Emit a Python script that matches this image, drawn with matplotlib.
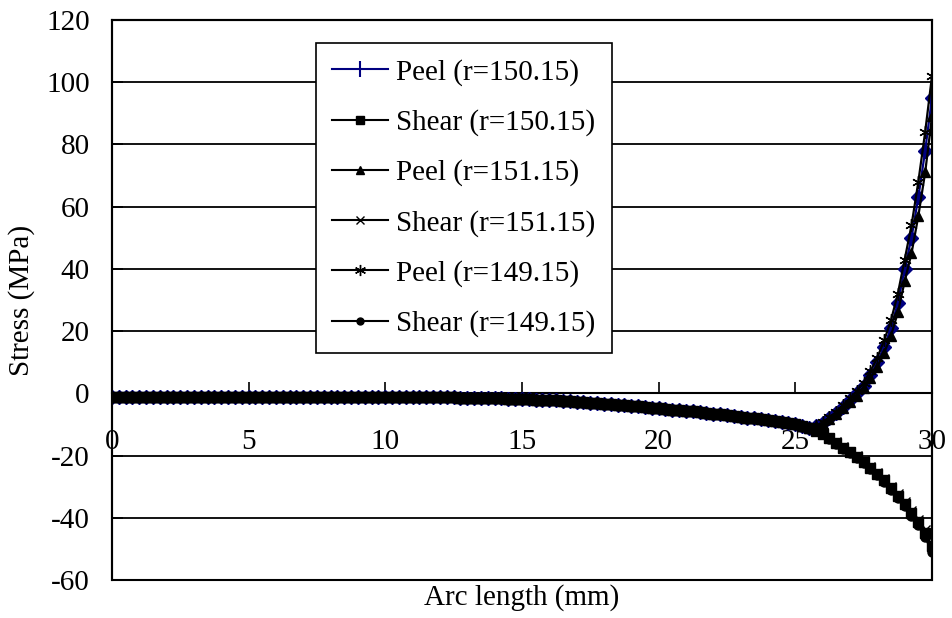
import numpy as np
from matplotlib import pyplot as plt
from matplotlib.lines import Line2D
from matplotlib.patches import Rectangle

plt.rcParams['font.family'] = ['Liberation Serif', 'DejaVu Serif']
plt.rcParams['font.size'] = 21
plt.rcParams['axes.unicode_minus'] = False

# arc length samples (mm), every 0.25 mm
arc = np.linspace(0, 30, 121)

# 0 .. 25.25 mm, all six curves lie on top of each other here
early = [-1.2, -1.2, -1.2, -1.2, -1.2, -1.2, -1.2, -1.2,
         -1.2, -1.2, -1.2, -1.2, -1.2, -1.2, -1.2, -1.2,
         -1.2, -1.2, -1.2, -1.2, -1.2, -1.2, -1.2, -1.2,
         -1.2, -1.2, -1.2, -1.2, -1.2, -1.2, -1.2, -1.2,
         -1.2, -1.2, -1.2, -1.2, -1.2, -1.2, -1.2, -1.2,
         -1.2, -1.2, -1.2, -1.2, -1.3, -1.3, -1.3, -1.3,
         -1.3, -1.3, -1.3, -1.4, -1.4, -1.4, -1.5, -1.5,
         -1.6, -1.6, -1.7, -1.7, -1.8, -1.9, -2.0, -2.1,
         -2.2, -2.3, -2.5, -2.6, -2.8, -2.9, -3.0, -3.2,
         -3.4, -3.5, -3.7, -3.8, -4.0, -4.2, -4.4, -4.6,
         -4.8, -5.0, -5.2, -5.4, -5.6, -5.8, -6.0, -6.3,
         -6.5, -6.7, -7.0, -7.2, -7.5, -7.8, -8.0, -8.3,
         -8.6, -8.9, -9.2, -9.6, -10.0, -10.5]

# 25.5 .. 30 mm
peel_150 = [-11, -10.5, -9.5, -8, -6.3, -4.3, -2.2, 0, 2.5, 6, 10, 15, 21,
            29, 40, 50, 63, 78, 95]
shear_150 = [-11, -12, -13, -14.5, -16, -17.5, -19, -20.5, -22, -24, -26,
             -28, -30.5, -33, -35.5, -38.5, -41.5, -45, -49]
peel_151 = [-11, -10.6, -9.7, -8.3, -6.7, -4.8, -2.8, -0.7, 1.6, 4.8, 8.5,
            13, 18.5, 26, 36, 45, 57, 71, 89]
shear_151 = [-11, -11.9, -12.9, -14.3, -15.8, -17.2, -18.7, -20.2, -21.7,
             -23.6, -25.6, -27.5, -30, -32.4, -34.8, -37.7, -40.6, -43.8, -47]
peel_149 = [-11, -10.4, -9.3, -7.7, -5.9, -3.8, -1.6, 0.7, 3.4, 7.2, 11.5,
            17, 23.5, 32, 43, 54, 68, 84, 102]
shear_149 = [-11, -12.1, -13.1, -14.7, -16.2, -17.8, -19.3, -20.8, -22.3,
             -24.4, -26.4, -28.5, -31, -33.6, -36.2, -39.3, -42.4, -46.2, -51]

labels = ["Peel (r=150.15)", "Shear (r=150.15)", "Peel (r=151.15)",
          "Shear (r=151.15)", "Peel (r=149.15)", "Shear (r=149.15)"]
tails = [peel_150, shear_150, peel_151, shear_151, peel_149, shear_149]

star = (6, 2, 0)
styles = [('#000080', 'D', 7.5), ('black', 's', 7), ('black', '^', 7.5),
          ('black', 'x', 7.5), ('black', star, 9), ('black', 'o', 6.5)]
legend_marks = ['|', 's', '^', 'x', star, 'o']
legend_sizes = [12, 6, 6, 6, 8, 5]

fig = plt.figure(figsize=(9.53, 6.18), dpi=100)
ax = fig.add_axes([112/953, 1 - 580/618, 820/953, 560/618])

for tail, (col, mk, ms) in zip(tails, styles):
    ax.plot(arc, early + tail, color=col, lw=1.6, marker=mk, ms=ms,
            mec=col, mfc=col, zorder=3)

ax.set_xlim(0, 30)
ax.set_ylim(-60, 120)
ax.set_xticks(range(0, 31, 5))
ax.set_yticks(range(-60, 121, 20))
ax.yaxis.grid(True, color='black', lw=1.3)
ax.set_axisbelow(True)

# x axis crosses at zero, ticks point up
ax.spines['bottom'].set_position(('data', 0))
for s in ax.spines.values():
    s.set_linewidth(1.5)
ax.add_patch(Rectangle((0, 0), 1, 1, transform=ax.transAxes, fill=False,
                       lw=1.5, ec='black', clip_on=False, zorder=4))
ax.tick_params(axis='x', direction='in', length=8, width=1.2, pad=26)
ax.tick_params(axis='y', direction='in', length=8, width=1.2, pad=16)

ax.set_xlabel("Arc length (mm)")
ax.xaxis.set_label_coords(0.5, -0.008)
ax.set_ylabel("Stress (MPa)")
ax.yaxis.set_label_coords(-0.094, 0.5)

handles = []
for (col, mk, ms), lm, ls in zip(styles, legend_marks, legend_sizes):
    handles.append(Line2D([], [], color=col, lw=1.5, marker=lm, ms=ls,
                          mec=col, mfc=col, mew=1.5 if lm == '|' else 1))
leg = ax.legend(handles, labels, loc='upper left',
                bbox_to_anchor=(0.249, 0.959), borderaxespad=0,
                fancybox=False, framealpha=1, edgecolor='black',
                handlelength=1.9, handletextpad=0.3, labelspacing=0.8,
                borderpad=0.55)
leg.get_frame().set_linewidth(1.2)
leg.set_zorder(5)

fig.savefig("out.png", dpi=100)
